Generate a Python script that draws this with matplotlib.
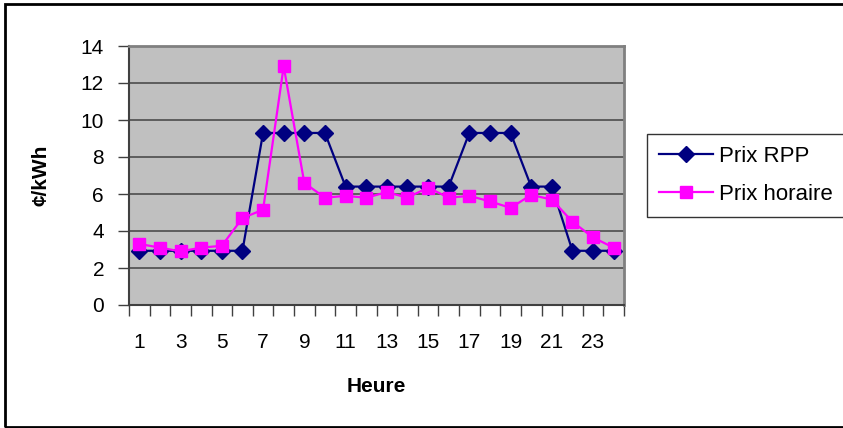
import matplotlib.pyplot as plt
from matplotlib.patches import Rectangle

plt.rcParams['font.family'] = ['Liberation Sans', 'DejaVu Sans']

heures = list(range(1, 25))
prix_rpp = [2.93, 2.93, 2.93, 2.93, 2.93, 2.93, 9.3, 9.3, 9.3, 9.3,
            6.4, 6.4, 6.4, 6.4, 6.4, 6.4, 9.3, 9.3, 9.3, 6.4, 6.4,
            2.93, 2.93, 2.93]
prix_horaire = [3.3, 3.1, 2.9, 3.1, 3.2, 4.7, 5.15, 12.9, 6.6, 5.8,
                5.9, 5.8, 6.1, 5.8, 6.35, 5.8, 5.9, 5.6, 5.25, 5.95,
                5.7, 4.5, 3.65, 3.1]
x_labels = [str(h) if h % 2 == 1 else '' for h in heures]

fig = plt.figure(figsize=(8.43, 4.28), dpi=100)
ax = fig.add_axes([129 / 843, 1 - 305 / 428, (624 - 129) / 843, (305 - 46) / 428])

ax.set_facecolor('#C0C0C0')
ax.plot(heures, prix_rpp, color='#000080', marker='D', markersize=8.5,
        linewidth=1.6, label='Prix RPP', zorder=3)
ax.plot(heures, prix_horaire, color='#FF00FF', marker='s', markersize=9,
        linewidth=1.6, label='Prix horaire', zorder=4)

ax.set_xlim(0.5, 24.5)
ax.set_ylim(0, 14)
ax.set_yticks(range(0, 15, 2))
ax.yaxis.grid(True, color='#555555', linewidth=1.3)
ax.set_axisbelow(True)

# ticks entre les categories, etiquettes au centre
ax.set_xticks([h + 0.5 for h in range(0, 25)])
ax.set_xticklabels([])
ax.set_xticks(heures, minor=True)
ax.set_xticklabels(x_labels, minor=True, fontsize=15)
ax.tick_params(axis='x', which='minor', length=0, pad=20)
ax.tick_params(axis='x', which='major', length=8, width=1, color='#404040', direction='out')
ax.tick_params(axis='y', length=8, width=1, color='#404040', labelsize=15, pad=10)

for s in ['top', 'right']:
    ax.spines[s].set_color('#808080')
    ax.spines[s].set_linewidth(2)
for s in ['left', 'bottom']:
    ax.spines[s].set_color('#404040')
    ax.spines[s].set_linewidth(1.5)

ax.set_xlabel('Heure', fontsize=15, fontweight='bold', labelpad=18)
ax.set_ylabel('¢/kWh', fontsize=15, fontweight='bold', labelpad=22)

leg = fig.legend(loc='upper left', bbox_to_anchor=(647 / 843, 1 - 134 / 428),
                 fontsize=16, frameon=True, fancybox=False, edgecolor='black',
                 borderpad=0.55, handlelength=2.4, handletextpad=0.3, labelspacing=0.75,
                 borderaxespad=0)
leg.get_frame().set_linewidth(1)

fig.patches.append(Rectangle((5 / 843, 0.002), 1, 1 - 5 / 428, transform=fig.transFigure,
                             fill=False, edgecolor='black', linewidth=2))

fig.savefig('out.png', dpi=100)
